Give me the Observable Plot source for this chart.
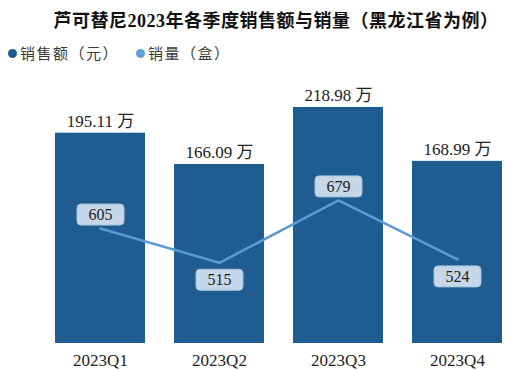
<!DOCTYPE html>
<html><head><meta charset="utf-8">
<script src="https://cdn.jsdelivr.net/npm/d3@7"></script>
<script src="https://cdn.jsdelivr.net/npm/@observablehq/plot@0.6"></script>
<style>
body{margin:0;background:#fff;}
#wrap{position:relative;width:526px;height:370px;overflow:hidden;font-family:"Liberation Serif","Noto Sans CJK SC",serif;}
#title{position:absolute;top:9px;left:0;width:526px;text-align:center;padding-left:26px;box-sizing:border-box;font-size:18px;font-weight:bold;color:#111;line-height:24px;white-space:nowrap;letter-spacing:0.5px;}
.leg{position:absolute;top:43px;font-size:15px;color:#3a3a3a;line-height:20px;font-family:"Noto Sans CJK SC",sans-serif;white-space:nowrap;letter-spacing:1.5px;}
.dot{position:absolute;width:9px;height:9px;border-radius:50%;top:49px;}
#chart{position:absolute;top:70px;left:0;}
</style></head>
<body>
<div id="wrap">
  <div id="title">芦可替尼2023年各季度销售额与销量（黑龙江省为例）</div>
  <div class="dot" style="left:8px;background:#1F5C92"></div>
  <div class="leg" style="left:20px">销售额（元）</div>
  <div class="dot" style="left:136px;background:#5BA3D9"></div>
  <div class="leg" style="left:148px">销量（盒）</div>
  <div id="chart"></div>
</div>
<script>
const quarters = ["2023Q1", "2023Q2", "2023Q3", "2023Q4"];
const salesAmount = [195.11, 166.09, 218.98, 168.99]; // 万元
const salesVolume = [605, 515, 679, 524]; // 盒

const meanVol = d3.mean(salesVolume);
const data = quarters.map((q, i) => ({
  q,
  amount: salesAmount[i],
  vol: salesVolume[i],
  above: salesVolume[i] > meanVol
}));

// secondary axis for volume mapped onto the bar scale units
const volScale = d3.scaleLinear().domain([303, 994]).range([0, 244]);

const roundBox = {
  draw(ctx) {
    const w = 47, h = 21, r = 4, x0 = -w / 2, y0 = -h / 2;
    ctx.moveTo(x0 + r, y0);
    ctx.arcTo(x0 + w, y0, x0 + w, y0 + h, r);
    ctx.arcTo(x0 + w, y0 + h, x0, y0 + h, r);
    ctx.arcTo(x0, y0 + h, x0, y0, r);
    ctx.arcTo(x0, y0, x0 + w, y0, r);
    ctx.closePath();
  }
};

const serif = "Liberation Serif, Noto Sans CJK SC, serif";
const boxStyle = {x: "q", symbol: roundBox, r: 5, fill: "#C5D7E8", stroke: "#A9C3DA", strokeWidth: 1};
const lblStyle = {x: "q", text: d => String(d.vol), fontSize: 16, fontFamily: serif, fill: "#222"};

const chart = Plot.plot({
  width: 526,
  height: 300,
  marginLeft: 40,
  marginRight: 8,
  marginTop: 10,
  marginBottom: 27,
  style: {background: "transparent"},
  x: {domain: quarters, paddingInner: 0.24, paddingOuter: 0.12, label: null},
  y: {domain: [0, 244], axis: null},
  marks: [
    Plot.barY(data, {x: "q", y: "amount", fill: "#1F5C92"}),
    Plot.text(data, {x: "q", y: "amount", text: d => `${d.amount.toFixed(2)} 万`, lineAnchor: "bottom", dy: -6, fontSize: 17, fontFamily: serif, fill: "#222"}),
    Plot.line(data, {x: "q", y: d => volScale(d.vol), stroke: "#5B9BD5", strokeWidth: 2.5}),
    Plot.dot(data, {...boxStyle, y: d => volScale(d.vol), filter: d => d.above, dy: -14}),
    Plot.dot(data, {...boxStyle, y: d => volScale(d.vol), filter: d => !d.above, dy: 17}),
    Plot.text(data, {...lblStyle, y: d => volScale(d.vol), filter: d => d.above, dy: -14}),
    Plot.text(data, {...lblStyle, y: d => volScale(d.vol), filter: d => !d.above, dy: 17}),
    Plot.axisX({tickSize: 0, tickPadding: 10, fontSize: 17, fontFamily: serif, color: "#222", label: null})
  ]
});
document.getElementById("chart").appendChild(chart);
</script>
</body></html>
